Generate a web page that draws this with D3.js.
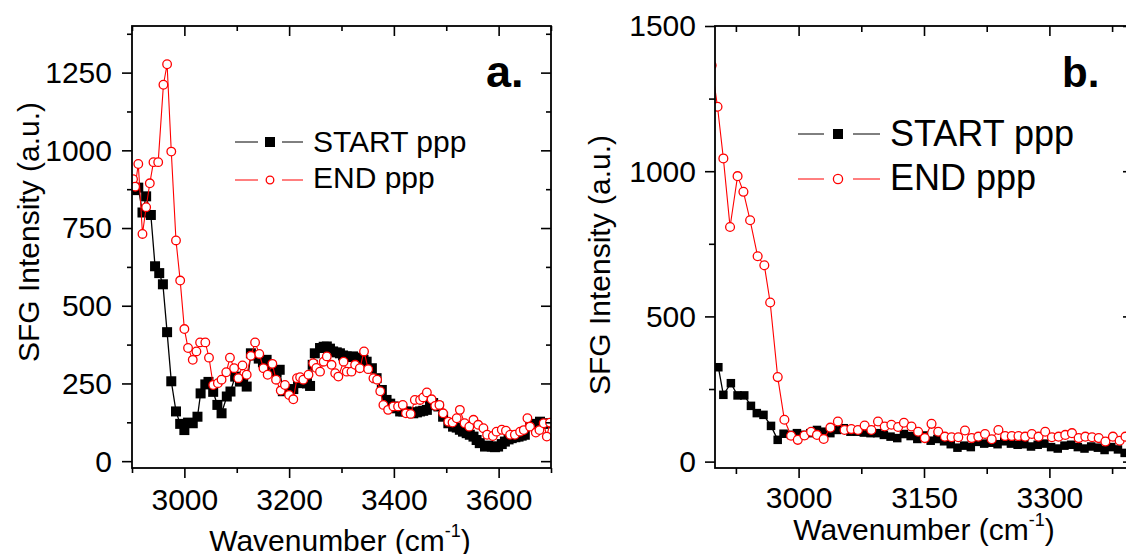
<!DOCTYPE html>
<html>
<head>
<meta charset="utf-8">
<script src="https://cdn.jsdelivr.net/npm/d3@7"></script>
<style>
  html, body { margin: 0; padding: 0; background: #fff; }
  svg { display: block; font-family: "Liberation Sans", Arial, Helvetica, sans-serif; }
</style>
</head>
<body>
<svg id="chart" width="1126" height="554"></svg>
<script>
// ---- Panel a: SFG spectra, 2900-3700 cm-1 ----
const waveStartA = [2904,2912,2920,2927,2936,2944,2952,2959,2967,2975,2984,2992,3000,3007,3016,3025,3031,3040,3046,3055,3063,3071,3081,3088,3097,3106,3112,3119,3127,3134,3142,3150,3157,3167,3176,3182,3188,3196,3208,3217,3227,3234,3240,3245,3249,3259,3266,3272,3278,3284,3291,3297,3303,3310,3316,3322,3329,3335,3342,3348,3358,3367,3377,3386,3393,3399,3406,3412,3418,3424,3431,3437,3444,3450,3456,3463,3469,3475,3485,3494,3504,3513,3520,3526,3532,3539,3545,3552,3558,3564,3574,3580,3587,3593,3599,3606,3612,3619,3625,3632,3638,3644,3650,3660,3668,3679,3687,3695];
const startA = [872,880,800,852,792,627,605,569,415,257,160,120,100,124,122,143,218,247,255,223,181,154,208,224,272,256,262,240,347,340,330,318,326,299,288,294,225,229,232,251,262,250,242,310,347,364,368,369,362,353,350,347,340,337,335,337,333,331,326,320,299,267,229,197,185,176,170,160,160,160,157,154,157,160,162,165,180,187,176,143,122,111,108,101,95,90,85,79,68,58,47,50,47,45,47,55,63,70,74,77,79,82,85,117,120,127,120,122];

const waveEndA = [2902,2906,2912,2920,2927,2934,2941,2950,2960,2967,2975,2984,2992,3000,3007,3016,3023,3030,3040,3047,3055,3064,3071,3080,3087,3095,3103,3111,3119,3127,3135,3143,3151,3159,3168,3175,3184,3192,3200,3208,3215,3221,3227,3237,3246,3252,3259,3266,3272,3281,3288,3294,3304,3310,3319,3326,3335,3343,3351,3361,3368,3374,3380,3389,3399,3408,3417,3423,3432,3440,3450,3456,3463,3472,3479,3487,3494,3504,3512,3520,3526,3535,3544,3552,3561,3571,3578,3589,3596,3606,3614,3622,3631,3641,3648,3655,3660,3671,3678,3686,3692,3698];
const endA = [907,883,956,731,817,894,962,962,1211,1277,996,710,581,425,364,326,353,382,382,333,245,251,262,286,333,299,267,308,278,339,382,345,299,278,313,262,227,245,213,199,267,270,262,278,315,300,288,320,337,310,283,272,320,288,288,310,299,353,296,267,262,225,181,165,176,176,181,154,152,197,197,205,221,199,178,181,154,127,124,138,165,122,111,133,117,106,85,81,95,101,98,85,85,95,100,138,111,92,100,122,79,124];

const xMajorA = [3000, 3200, 3400, 3600];
const xMinorA = [2900, 3100, 3300, 3500, 3700];
const yMajorA = [0, 250, 500, 750, 1000, 1250];
const yMinorA = [125, 375, 625, 875, 1125, 1375];

// ---- Panel b: SFG spectra, 2900-3400 cm-1 ----
const waveStartB = [2904,2910,2919,2927,2935,2943,2950,2958,2967,2975,2982,2991,2998,3006,3014,3022,3030,3038,3046,3054,3062,3070,3078,3086,3094,3102,3110,3118,3126,3134,3142,3150,3158,3166,3174,3182,3190,3198,3206,3214,3222,3230,3238,3246,3254,3262,3270,3278,3286,3294,3302,3310,3318,3326,3334,3342,3350,3358,3366,3374,3382,3390,3398];
const startB = [325,230,270,228,228,192,167,161,123,75,96,92,98,92,98,109,103,98,109,115,103,103,100,98,98,92,86,81,95,88,78,90,72,78,70,60,48,55,50,68,62,65,60,70,62,58,60,52,58,62,50,45,55,58,50,45,52,48,40,50,42,30,45];

const waveEndB = [2896,2903,2910,2918,2927,2934,2942,2951,2959,2966,2975,2983,2991,2999,3007,3015,3022,3030,3038,3047,3055,3063,3071,3079,3087,3095,3103,3111,3119,3126,3135,3143,3151,3159,3167,3175,3183,3191,3199,3207,3215,3223,3231,3239,3247,3255,3263,3271,3279,3287,3295,3303,3311,3319,3327,3335,3343,3351,3359,3367,3376,3384,3391,3399];
const endB = [1365,1222,1044,808,983,929,831,707,676,548,291,144,89,75,90,103,92,78,117,138,109,112,109,124,109,138,121,127,119,134,121,103,81,130,103,86,84,84,107,81,86,95,77,109,88,88,88,86,95,86,103,84,86,92,98,81,86,84,81,69,86,72,86,90];

const xMajorB = [3000, 3150, 3300];
const xMinorB = [2925, 3075, 3225, 3375];
const yMajorB = [0, 500, 1000, 1500];
const yMinorB = [250, 750, 1250];

const seriesNames = ["START ppp", "END ppp"];
const panelLetters = ["a.", "b."];

const svg = d3.select("#chart");
const FONT = 30;

function zip(xs, ys) { return xs.map((w, i) => ({ w, v: ys[i] })); }

function drawPanel(cfg) {
  const x = d3.scaleLinear().domain(cfg.xDomain).range([cfg.left, cfg.right]);
  const y = d3.scaleLinear().domain(cfg.yDomain).range([cfg.bottom, cfg.top]);
  const g = svg.append("g");

  const clipId = "clip-" + cfg.id;
  svg.append("defs").append("clipPath").attr("id", clipId)
    .append("rect")
    .attr("x", cfg.left).attr("y", cfg.top)
    .attr("width", cfg.right - cfg.left).attr("height", cfg.bottom - cfg.top);

  // data layer
  const data = g.append("g").attr("clip-path", `url(#${clipId})`);
  const line = d3.line().x(d => x(d.w)).y(d => y(d.v));

  const s1 = zip(cfg.startW, cfg.startV);
  const s2 = zip(cfg.endW, cfg.endV);

  data.append("path").datum(s1)
    .attr("d", line).attr("fill", "none")
    .attr("stroke", "#000").attr("stroke-width", 1.3);
  data.selectAll("rect.sq").data(s1).join("rect")
    .attr("class", "sq")
    .attr("x", d => x(d.w) - cfg.sq / 2).attr("y", d => y(d.v) - cfg.sq / 2)
    .attr("width", cfg.sq).attr("height", cfg.sq)
    .attr("fill", "#000");

  data.append("path").datum(s2)
    .attr("d", line).attr("fill", "none")
    .attr("stroke", "#ff0000").attr("stroke-width", 1.1);
  data.selectAll("circle.ci").data(s2).join("circle")
    .attr("class", "ci")
    .attr("cx", d => x(d.w)).attr("cy", d => y(d.v))
    .attr("r", cfg.r)
    .attr("fill", "#fff").attr("stroke", "#ff0000").attr("stroke-width", 1.3);

  // axes: major + minor ticks on all four sides
  const styleAxis = sel => {
    sel.select(".domain").remove();
    sel.selectAll("line").attr("stroke", "#000").attr("stroke-width", 1.6);
    sel.attr("font-size", null).attr("font-family", null);
  };
  const MAJ = 10, MIN = cfg.minorLen;

  g.append("g").attr("transform", `translate(0,${cfg.bottom})`)
    .call(d3.axisBottom(x).tickValues(cfg.xMajor).tickSize(MAJ).tickFormat(d3.format("d")))
    .call(styleAxis)
    .call(a => a.selectAll("text").attr("y", cfg.xLabelY).attr("dy", null)
      .attr("font-size", FONT).attr("fill", "#000"));
  g.append("g").attr("transform", `translate(0,${cfg.bottom})`)
    .call(d3.axisBottom(x).tickValues(cfg.xMinor).tickSize(MIN).tickFormat(""))
    .call(styleAxis);

  g.append("g").attr("transform", `translate(0,${cfg.top})`)
    .call(d3.axisTop(x).tickValues(cfg.xMajor).tickSize(-MAJ).tickFormat(""))
    .call(styleAxis);
  g.append("g").attr("transform", `translate(0,${cfg.top})`)
    .call(d3.axisTop(x).tickValues(cfg.xMinor).tickSize(-MIN).tickFormat(""))
    .call(styleAxis);

  g.append("g").attr("transform", `translate(${cfg.left},0)`)
    .call(d3.axisLeft(y).tickValues(cfg.yMajor).tickSize(MAJ).tickFormat(d3.format("d")))
    .call(styleAxis)
    .call(a => a.selectAll("text").attr("x", cfg.yLabelX).attr("dy", "0.33em")
      .attr("font-size", FONT).attr("fill", "#000"));
  g.append("g").attr("transform", `translate(${cfg.left},0)`)
    .call(d3.axisLeft(y).tickValues(cfg.yMinor).tickSize(MIN).tickFormat(""))
    .call(styleAxis);

  g.append("g").attr("transform", `translate(${cfg.right},0)`)
    .call(d3.axisRight(y).tickValues(cfg.yMajor).tickSize(-MAJ).tickFormat(""))
    .call(styleAxis);
  g.append("g").attr("transform", `translate(${cfg.right},0)`)
    .call(d3.axisRight(y).tickValues(cfg.yMinor).tickSize(-MIN).tickFormat(""))
    .call(styleAxis);

  // frame
  g.append("rect")
    .attr("x", cfg.left).attr("y", cfg.top)
    .attr("width", cfg.right - cfg.left).attr("height", cfg.bottom - cfg.top)
    .attr("fill", "none").attr("stroke", "#000").attr("stroke-width", 1.8);

  // axis titles
  const xt = g.append("text")
    .attr("x", cfg.xTitleX).attr("y", cfg.xTitleY)
    .attr("text-anchor", "middle").attr("font-size", FONT).attr("fill", "#000");
  xt.append("tspan").text("Wavenumber (cm");
  xt.append("tspan").attr("font-size", 18).attr("dy", -14).text("-1");
  xt.append("tspan").attr("dy", 14).text(")");

  g.append("text")
    .attr("transform", `translate(${cfg.yTitleX},${cfg.yTitleY}) rotate(-90)`)
    .attr("text-anchor", "middle").attr("font-size", FONT).attr("fill", "#000")
    .text("SFG Intensity (a.u.)");

  // panel letter
  g.append("text")
    .attr("x", cfg.letterX).attr("y", cfg.letterY)
    .attr("font-size", cfg.letterSize).attr("font-weight", "bold").attr("fill", "#000")
    .text(cfg.letter);

  // legend
  const L = cfg.legend;
  const rows = [
    { name: seriesNames[0], color: "#000", y: L.y1, base: L.b1, kind: "sq" },
    { name: seriesNames[1], color: "#ff0000", y: L.y2, base: L.b2, kind: "ci" }
  ];
  rows.forEach(rw => {
    const lg = g.append("g");
    lg.append("line").attr("x1", L.l1).attr("x2", L.l2).attr("y1", rw.y).attr("y2", rw.y)
      .attr("stroke", rw.color).attr("stroke-width", 1);
    lg.append("line").attr("x1", L.l3).attr("x2", L.l4).attr("y1", rw.y).attr("y2", rw.y)
      .attr("stroke", rw.color).attr("stroke-width", 1);
    if (rw.kind === "sq") {
      lg.append("rect").attr("x", L.mx - L.sq / 2).attr("y", rw.y - L.sq / 2)
        .attr("width", L.sq).attr("height", L.sq).attr("fill", "#000");
    } else {
      lg.append("circle").attr("cx", L.mx).attr("cy", rw.y).attr("r", L.r)
        .attr("fill", "#fff").attr("stroke", "#ff0000").attr("stroke-width", 1.3);
    }
    lg.append("text").attr("x", L.tx).attr("y", rw.base)
      .attr("font-size", L.size).attr("fill", "#000").text(rw.name);
  });
}

drawPanel({
  id: "a", letter: panelLetters[0],
  left: 132, right: 551, top: 26, bottom: 468,
  xDomain: [2900, 3700], yDomain: [-22, 1400],
  xMajor: xMajorA, xMinor: xMinorA, yMajor: yMajorA, yMinor: yMinorA,
  startW: waveStartA, startV: startA, endW: waveEndA, endV: endA,
  sq: 10, r: 4.3, minorLen: 5,
  xLabelY: 42, yLabelX: -20,
  xTitleX: 340, xTitleY: 551, yTitleX: 38.5, yTitleY: 232,
  letterX: 486, letterY: 87, letterSize: 45,
  legend: { l1: 235, l2: 258, mx: 270, l3: 282, l4: 303, tx: 313,
            y1: 142, y2: 180, b1: 152, b2: 188, size: 30, sq: 10, r: 3.8 }
});

drawPanel({
  id: "b", letter: panelLetters[1],
  left: 715, right: 1133, top: 26, bottom: 468,
  xDomain: [2900, 3400], yDomain: [-22, 1500],
  xMajor: xMajorB, xMinor: xMinorB, yMajor: yMajorB, yMinor: yMinorB,
  startW: waveStartB, startV: startB, endW: waveEndB, endV: endB,
  sq: 8.5, r: 4.4, minorLen: 6,
  xLabelY: 40, yLabelX: -19,
  xTitleX: 924, xTitleY: 540, yTitleX: 610, yTitleY: 265,
  letterX: 1062, letterY: 87, letterSize: 42,
  legend: { l1: 798, l2: 824, mx: 838, l3: 853, l4: 880, tx: 890,
            y1: 134, y2: 179, b1: 146, b2: 190, size: 36, sq: 10, r: 4.6 }
});
</script>
</body>
</html>
